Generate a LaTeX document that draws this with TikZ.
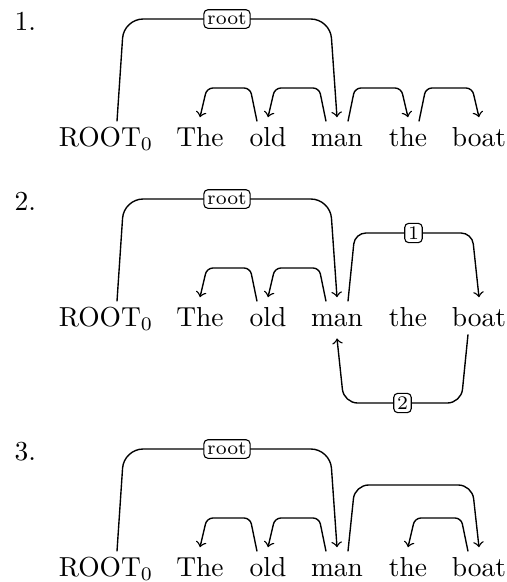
\documentclass[tikz,border=0pt]{standalone}
\usetikzlibrary{calc}
\newcommand\depedge[6]{%
  % #1 start point, #2 end point, #3 y of the horizontal part, #4 slant, #5 corner radius, #6 label path part
  \path #1 coordinate (dS) #2 coordinate (dE);
  \draw[dep,rounded corners=#5] (dS) -- ($(dS |- 0,#3)+(#4,0)$) -- #6 ($(dE |- 0,#3)+(-#4,0)$) -- (dE);}
\begin{document}
\begin{tikzpicture}[x=0.364pt,y=-0.364pt,
  word/.style={anchor=base,inner sep=3.33pt,text height=6.94pt,text depth=1pt},
  num/.style={anchor=base west,inner sep=0pt},
  dep/.style={draw,->,line width=0.5pt},
  lab/.style={draw,line width=0.4pt,rounded corners=1.5pt,fill=white,font=\scriptsize,inner sep=1.2pt}]
\useasboundingbox (0,0) rectangle (506,582);

% ---------- 1 ----------
\begin{scope}
\node[num] (n1) at (14,30) {1.};
\node[word] (aR) at (106,146) {ROOT$_0$};
\node[word] (aThe) at (200,146) {The};
\node[word] (aold) at (268,146) {old};
\node[word] (aman) at (337,146) {man};
\node[word] (athe) at (408,146) {the};
\node[word] (aboat) at (479,146) {boat};
\depedge{([xshift=4pt,yshift=-1.5pt]aR.north)}{(aman.north)}{19}{2.5pt}{7pt}{node[lab]{root}}
\depedge{([xshift=-4pt,yshift=-1.5pt]aold.north)}{(aThe.north)}{88}{-2.5pt}{2.2pt}{}
\depedge{([xshift=-4pt,yshift=-1.5pt]aman.north)}{(aold.north)}{88}{-2.5pt}{2.2pt}{}
\depedge{([xshift=4pt,yshift=-1.5pt]aman.north)}{(athe.north)}{88}{2.5pt}{2.2pt}{}
\depedge{([xshift=4pt,yshift=-1.5pt]athe.north)}{(aboat.north)}{88}{2.5pt}{2.2pt}{}
\end{scope}

% ---------- 2 ----------
\begin{scope}[shift={(0,180)}]
\node[num] (n2) at (14,30) {2.};
\node[word] (bR) at (106,146) {ROOT$_0$};
\node[word] (bThe) at (200,146) {The};
\node[word] (bold) at (268,146) {old};
\node[word] (bman) at (337,146) {man};
\node[word] (bthe) at (408,146) {the};
\node[word] (bboat) at (479,146) {boat};
\depedge{([xshift=4pt,yshift=-1.5pt]bR.north)}{(bman.north)}{19}{2.5pt}{7pt}{node[lab]{root}}
\depedge{([xshift=-4pt,yshift=-1.5pt]bold.north)}{(bThe.north)}{88}{-2.5pt}{2.2pt}{}
\depedge{([xshift=-4pt,yshift=-1.5pt]bman.north)}{(bold.north)}{88}{-2.5pt}{2.2pt}{}
\depedge{([xshift=4pt,yshift=-1.5pt]bman.north)}{(bboat.north)}{53}{2.5pt}{4pt}{node[lab]{1}}
\depedge{([xshift=-4pt,yshift=1.5pt]bboat.south)}{(bman.south)}{223}{-2.5pt}{5pt}{node[lab]{2}}
\end{scope}

% ---------- 3 ----------
\begin{scope}[shift={(0,430)}]
\node[num] (n3) at (14,30) {3.};
\node[word] (cR) at (106,146) {ROOT$_0$};
\node[word] (cThe) at (200,146) {The};
\node[word] (cold) at (268,146) {old};
\node[word] (cman) at (337,146) {man};
\node[word] (cthe) at (408,146) {the};
\node[word] (cboat) at (479,146) {boat};
\depedge{([xshift=4pt,yshift=-1.5pt]cR.north)}{(cman.north)}{19}{2.5pt}{7pt}{node[lab]{root}}
\depedge{([xshift=-4pt,yshift=-1.5pt]cold.north)}{(cThe.north)}{88}{-2.5pt}{2.2pt}{}
\depedge{([xshift=-4pt,yshift=-1.5pt]cman.north)}{(cold.north)}{88}{-2.5pt}{2.2pt}{}
\depedge{([xshift=4pt,yshift=-1.5pt]cman.north)}{(cboat.north)}{55}{2.5pt}{5pt}{}
\depedge{([xshift=-4pt,yshift=-1.5pt]cboat.north)}{(cthe.north)}{88}{-2.5pt}{2.2pt}{}
\end{scope}
\end{tikzpicture}
\end{document}
